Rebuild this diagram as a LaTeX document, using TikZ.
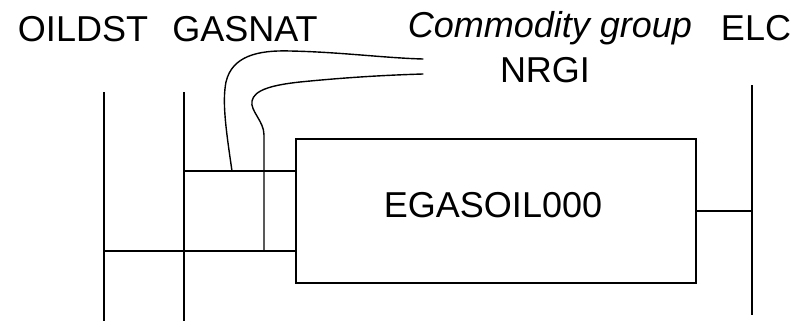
\documentclass[tikz,border=0pt]{standalone}
\usepackage{fontspec}
\setmainfont{Liberation Sans}
\usepackage{tikz}
\usetikzlibrary{positioning,calc}
\tikzset{
  bus/.style={draw=black,line width=0.7pt},
  flow/.style={draw=black,line width=0.7pt,line cap=round},
  proc/.style={draw=black,line width=0.7pt,minimum width=200pt,minimum height=72pt,inner sep=0pt},
  lbl/.style={anchor=base,inner sep=0pt,font=\fontsize{18pt}{21pt}\selectfont},
}
\begin{document}
\begin{tikzpicture}[x=0.5pt,y=-0.5pt]
\useasboundingbox (0,0) rectangle (793,321);
\node[lbl] (oildst) at (83,41) {OILDST};
\node[lbl] (gasnat) at (245,41) {GASNAT};
\node[lbl] (cgroup) at (550,37) {\itshape Commodity group};
\node[lbl] (elc) at (756,40) {ELC};
\node[lbl] (nrgi) at (545,82) {NRGI};
\node[proc] (box) at (496,211) {};
\node[lbl] (pname) at (493,217) {EGASOIL000};
\coordinate (oilT) at (104,92);
\coordinate (oilB) at (104,321);
\coordinate (gasT) at (184,92);
\coordinate (gasB) at (184,321);
\coordinate (elcT) at (752,85);
\coordinate (elcB) at (752,315);
\coordinate (in1) at (box.west |- 0,171);
\coordinate (in2) at (box.west |- 0,251);
\coordinate (c1) at (232,171);
\coordinate (c2) at (264,251);
\coordinate (nrgiA) at (423,59);
\coordinate (nrgiB) at (423,74);
\draw[bus] (oilT) -- (oilB);
\draw[bus] (gasT) -- (gasB);
\draw[bus] (elcT) -- (elcB);
\draw[bus] (gasT |- in1) -- (in1);
\draw[bus] (oilT |- in2) -- (in2);
\draw[bus] (box.east) -- (elcT |- box.east);
\draw[flow] (c1) .. controls (226,130) and (222,102) .. (226,82)
  .. controls (232,56) and (258,50) .. (290,51)
  .. controls (340,52) and (385,58) .. (nrgiA);
\draw[flow] (c2) -- (264,135) .. controls (264,121) and (250,111) .. (252,101)
  .. controls (254,90) and (272,85) .. (300,82)
  .. controls (350,77) and (390,75) .. (nrgiB);
\end{tikzpicture}
\end{document}
